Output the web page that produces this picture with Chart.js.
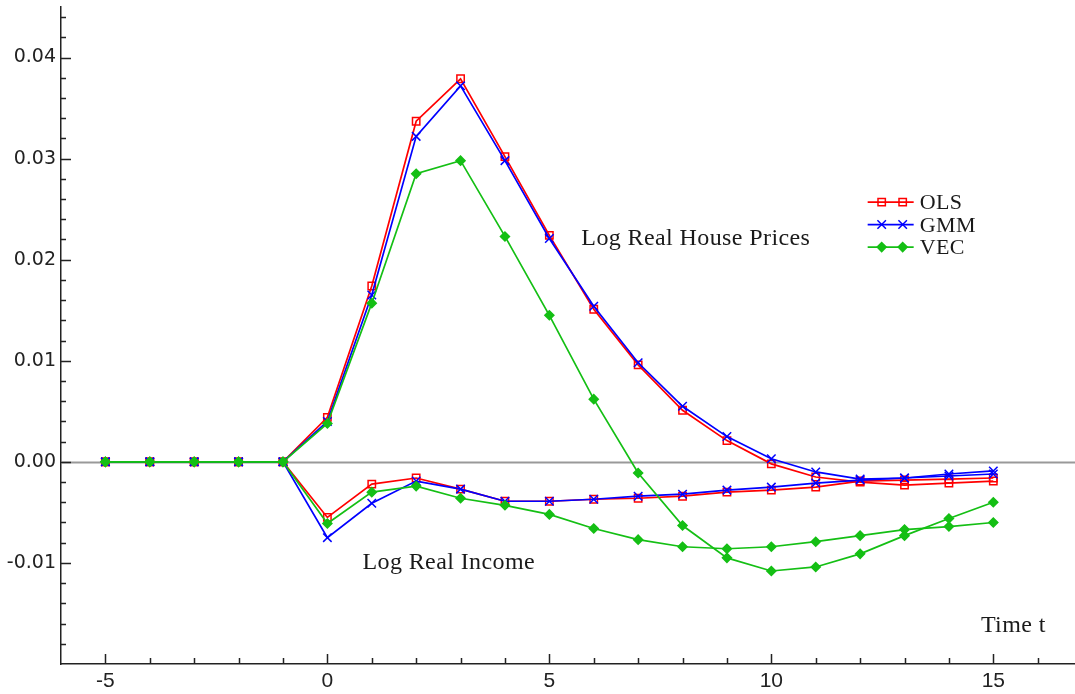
<!DOCTYPE html>
<html>
<head>
<meta charset="utf-8">
<script src="https://cdn.jsdelivr.net/npm/chart.js@4.4.1/dist/chart.umd.min.js"></script>
<style>
  html, body { margin: 0; padding: 0; background: #fff; }
</style>
</head>
<body>
<canvas id="irfChart" width="1075" height="694"></canvas>
<script>
// horizon (periods after the shock)
const horizon = [-5, -4, -3, -2, -1, 0, 1, 2, 3, 4, 5, 6, 7, 8, 9, 10, 11, 12, 13, 14, 15];

// response of log real house prices
const olsHouse = [0, 0, 0, 0, 0, 0.0044, 0.0174, 0.0337, 0.0379, 0.0302, 0.0224, 0.0151, 0.0096, 0.0051, 0.0021, -0.0002, -0.0015, -0.0020, -0.0023, -0.0021, -0.0019];
const gmmHouse = [0, 0, 0, 0, 0, 0.0040, 0.0165, 0.0322, 0.0372, 0.0298, 0.0221, 0.0154, 0.0098, 0.0055, 0.0025, 0.0003, -0.0010, -0.0017, -0.0016, -0.0012, -0.0009];
const vecHouse = [0, 0, 0, 0, 0, 0.0038, 0.0157, 0.0285, 0.0298, 0.0223, 0.0145, 0.0062, -0.0011, -0.0063, -0.0095, -0.0108, -0.0104, -0.0091, -0.0073, -0.0056, -0.0040];

// response of log real income
const olsIncome = [0, 0, 0, 0, 0, -0.0055, -0.0022, -0.0016, -0.0027, -0.0039, -0.0039, -0.0037, -0.0036, -0.0034, -0.0030, -0.0028, -0.0025, -0.0019, -0.0018, -0.0017, -0.0016];
const gmmIncome = [0, 0, 0, 0, 0, -0.0075, -0.0041, -0.0019, -0.0027, -0.0039, -0.0039, -0.0037, -0.0034, -0.0032, -0.0028, -0.0025, -0.0021, -0.0018, -0.0016, -0.0014, -0.0012];
const vecIncome = [0, 0, 0, 0, 0, -0.0061, -0.0030, -0.0024, -0.0036, -0.0043, -0.0052, -0.0066, -0.0077, -0.0084, -0.0086, -0.0084, -0.0079, -0.0073, -0.0067, -0.0064, -0.0060];

// axis ticks
const xMajorTicks = [-5, 0, 5, 10, 15];
const yMajorTicks = [-0.01, 0, 0.01, 0.02, 0.03, 0.04];
const xMinorStep = 1;
const yMinorStep = 0.002;

const legendItems = [
  { label: 'OLS', color: '#ff0000', style: 'rect', radius: 5.2, fill: 'rgba(0,0,0,0)' },
  { label: 'GMM', color: '#0000ff', style: 'crossRot', radius: 6, fill: 'rgba(0,0,0,0)' },
  { label: 'VEC', color: '#14bf14', style: 'rectRot', radius: 4.5, fill: '#14bf14' }
];

const curveLabels = [
  { text: 'Log Real House Prices', x: 5.72, y: 0.02144 },
  { text: 'Log Real Income', x: 0.79, y: -0.01062 },
  { text: 'Time t', x: 14.72, y: -0.01683 }
];

function series(item, values, order) {
  return {
    label: item.label,
    data: horizon.map((t, i) => ({ x: t, y: values[i] })),
    borderColor: item.color,
    borderWidth: 1.7,
    backgroundColor: item.fill,
    pointStyle: item.style,
    pointRadius: item.radius,
    pointBorderColor: item.color,
    pointBackgroundColor: item.fill,
    pointBorderWidth: 1.5,
    tension: 0,
    order: order
  };
}

function isMajor(v, list) {
  return list.some(m => Math.abs(m - v) < 1e-9);
}

function drawMarker(ctx, item, x, y) {
  ctx.strokeStyle = item.color;
  ctx.fillStyle = item.fill;
  ctx.lineWidth = 1.5;
  Chart.helpers.drawPoint(ctx, { pointStyle: item.style, radius: item.radius, borderWidth: 1.5, rotation: 0 }, x, y);
}

const decor = {
  id: 'decor',
  beforeDatasetsDraw(chart) {
    const { ctx, chartArea: a, scales: { x, y } } = chart;
    ctx.save();
    // zero line
    const y0 = Math.round(y.getPixelForValue(0)) + 0.5;
    ctx.strokeStyle = '#999';
    ctx.lineWidth = 2;
    ctx.beginPath();
    ctx.moveTo(a.left, y0);
    ctx.lineTo(a.right, y0);
    ctx.stroke();
    // inward tick marks
    ctx.strokeStyle = '#222';
    ctx.lineWidth = 1.5;
    ctx.beginPath();
    x.ticks.forEach(t => {
      const px = Math.round(x.getPixelForValue(t.value)) + 0.5;
      const len = isMajor(t.value, xMajorTicks) ? 10 : 6;
      ctx.moveTo(px, a.bottom);
      ctx.lineTo(px, a.bottom - len);
    });
    y.ticks.forEach(t => {
      const py = Math.round(y.getPixelForValue(t.value)) + 0.5;
      const len = isMajor(t.value, yMajorTicks) ? 10 : 5;
      ctx.moveTo(a.left, py);
      ctx.lineTo(a.left + len, py);
    });
    ctx.stroke();
    ctx.restore();
  },
  afterDraw(chart) {
    const { ctx, scales: { x, y } } = chart;
    ctx.save();
    ctx.fillStyle = '#1a1a1a';
    ctx.font = '24px "Liberation Serif", "Times New Roman", serif';
    ctx.letterSpacing = '0.4px';
    ctx.textBaseline = 'alphabetic';
    ctx.textAlign = 'left';
    curveLabels.forEach(l => {
      ctx.fillText(l.text, x.getPixelForValue(l.x), y.getPixelForValue(l.y));
    });
    // legend: line with two markers, then the label
    const lx = x.getPixelForValue(12.17);
    let ly = y.getPixelForValue(0.0257);
    legendItems.forEach(item => {
      ctx.strokeStyle = item.color;
      ctx.lineWidth = 1.7;
      ctx.beginPath();
      ctx.moveTo(lx, ly);
      ctx.lineTo(lx + 46, ly);
      ctx.stroke();
      drawMarker(ctx, item, lx + 14, ly);
      drawMarker(ctx, item, lx + 35, ly);
      ctx.fillStyle = '#1a1a1a';
      ctx.font = '22px "Liberation Serif", "Times New Roman", serif';
      ctx.fillText(item.label, lx + 52, ly + 7);
      ly += 22.5;
    });
    ctx.restore();
  }
};

const ctx = document.getElementById('irfChart').getContext('2d');
new Chart(ctx, {
  type: 'line',
  data: {
    datasets: [
      series(legendItems[0], olsHouse, 2),
      series(legendItems[1], gmmHouse, 1),
      series(legendItems[2], vecHouse, 0),
      series(legendItems[0], olsIncome, 2),
      series(legendItems[1], gmmIncome, 1),
      series(legendItems[2], vecIncome, 0)
    ]
  },
  options: {
    responsive: false,
    animation: false,
    layout: { autoPadding: false, padding: { top: 7, right: 0, bottom: 0, left: 0 } },
    plugins: {
      legend: { display: false },
      tooltip: { enabled: false }
    },
    scales: {
      x: {
        type: 'linear',
        min: -6,
        max: 16.84,
        afterBuildTicks(scale) {
          const ticks = [];
          for (let v = -5; v <= 16; v += xMinorStep) ticks.push({ value: v });
          scale.ticks = ticks;
        },
        afterFit(scale) {
          scale.height = 30;
          scale.paddingLeft = 0;
          scale.paddingRight = 0;
        },
        grid: { display: false, drawTicks: false },
        border: { display: true, color: '#222', width: 1.5 },
        ticks: {
          autoSkip: false,
          maxRotation: 0,
          padding: 5,
          color: '#222',
          font: { family: '"Liberation Sans", Arial, sans-serif', size: 21 },
          callback: v => isMajor(v, xMajorTicks) ? String(v) : ''
        }
      },
      y: {
        min: -0.02,
        max: 0.045,
        afterBuildTicks(scale) {
          const ticks = [];
          for (let i = -9; i <= 22; i++) ticks.push({ value: i * yMinorStep });
          scale.ticks = ticks;
        },
        afterFit(scale) {
          scale.width = 61;
          scale.paddingTop = 0;
          scale.paddingBottom = 0;
        },
        grid: { display: false, drawTicks: false },
        border: { display: true, color: '#222', width: 1.5 },
        ticks: {
          autoSkip: false,
          padding: 5,
          color: '#222',
          font: { family: '"DejaVu Sans", Verdana, sans-serif', size: 19 },
          callback: v => isMajor(v, yMajorTicks) ? v.toFixed(2) : ''
        }
      }
    }
  },
  plugins: [decor]
});
</script>
</body>
</html>
